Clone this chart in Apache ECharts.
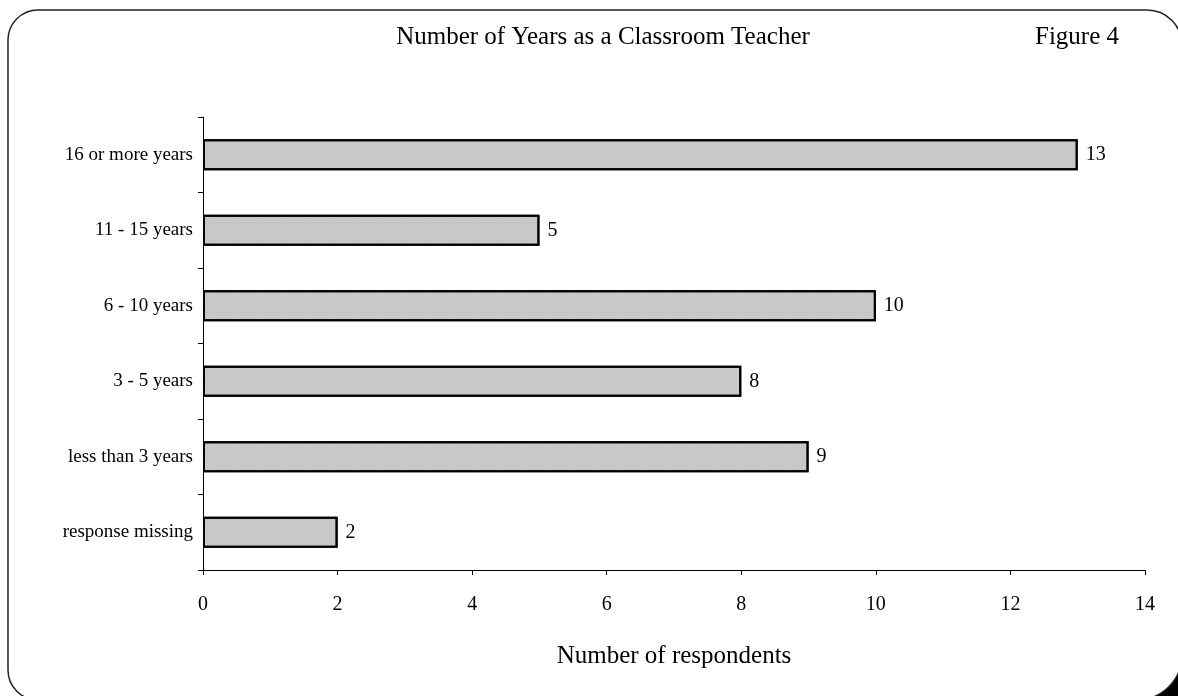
<!DOCTYPE html>
<html>
<head>
<meta charset="utf-8">
<script src="https://cdn.jsdelivr.net/npm/echarts@6/dist/echarts.min.js"></script>
<style>
  html, body { margin: 0; padding: 0; background: #fff; }
  #mycharts { width: 1178px; height: 696px; }
</style>
</head>
<body>
<div id="mycharts"></div>
<script>
// categories from bottom to top
const categories = ["response missing", "less than 3 years", "3 - 5 years", "6 - 10 years", "11 - 15 years", "16 or more years"];
const respondents = [2, 9, 8, 10, 5, 13];
const xTicks = [0, 2, 4, 6, 8, 10, 12, 14];

var chartDom = document.getElementById("mycharts");
var myChart = echarts.init(chartDom);
var font = "'Liberation Serif', 'Times New Roman', serif";

var option = {
  animation: false,
  textStyle: { fontFamily: font, color: "#000" },
  title: [
    {
      text: "Number of Years as a Classroom Teacher",
      left: 598,
      top: 20,
      textAlign: "center",
      textStyle: { fontFamily: font, fontSize: 25, fontWeight: "normal", color: "#000" },
    },
    {
      text: "Figure 4",
      left: 1072,
      top: 20,
      textAlign: "center",
      textStyle: { fontFamily: font, fontSize: 25, fontWeight: "normal", color: "#000" },
    },
  ],
  graphic: [
    {
      // dark corner at the bottom right of the scan
      type: "rect",
      z: -20,
      shape: { x: 1110, y: 630, width: 68, height: 66 },
      style: { fill: "#000" },
    },
    {
      type: "rect",
      z: -10,
      shape: { x: 8, y: 10, width: 1174, height: 690, r: [30, 35, 45, 30] },
      style: { fill: "#fff", stroke: "#222", lineWidth: 1.5 },
    },
  ],
  grid: { left: 203, right: 33, top: 117, bottom: 126 },
  xAxis: {
    type: "value",
    min: xTicks[0],
    max: xTicks[xTicks.length - 1],
    interval: 2,
    name: "Number of respondents",
    nameLocation: "middle",
    nameGap: 74,
    nameTextStyle: { fontFamily: font, fontSize: 25, color: "#000" },
    splitLine: { show: false },
    axisLine: { show: true, lineStyle: { color: "#000", width: 1 } },
    axisTick: { show: true, length: 5, lineStyle: { color: "#000" } },
    axisLabel: { fontFamily: font, fontSize: 20, color: "#000", margin: 25 },
  },
  yAxis: {
    type: "category",
    data: categories,
    axisLine: { show: true, lineStyle: { color: "#000", width: 1 } },
    axisTick: { show: true, length: 5, lineStyle: { color: "#000" } },
    axisLabel: { fontFamily: font, fontSize: 19, color: "#000", margin: 10 },
  },
  series: [
    {
      name: "respondents",
      type: "bar",
      data: respondents,
      barWidth: 31,
      itemStyle: {
        color: "#c9c9c9",
        borderColor: "#000",
        borderWidth: 2,
        decal: {
          symbol: "rect",
          symbolSize: 0.5,
          dashArrayX: [1, 2],
          dashArrayY: [1, 2],
          color: "rgba(120,120,120,0.45)",
        },
      },
      label: {
        show: true,
        position: "right",
        distance: 8,
        fontFamily: font,
        fontSize: 20,
        color: "#000",
      },
    },
  ],
};

option && myChart.setOption(option);
</script>
</body>
</html>
